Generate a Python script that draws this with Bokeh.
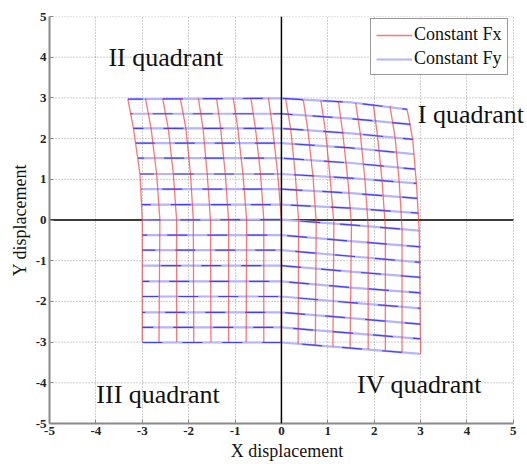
from bokeh.plotting import figure
from bokeh.models import Span, Label, Legend, LegendItem, FixedTicker
from bokeh.embed import file_html
from bokeh.resources import INLINE

# nominal levels of the two families of curves
fx_levels = [-3.0, -2.625, -2.25, -1.875, -1.5, -1.125, -0.75, -0.375, 0.0,
             0.375, 0.75, 1.125, 1.5, 1.875, 2.25, 2.625, 3.0]
fy_levels = [-3.0, -2.625, -2.25, -1.875, -1.5, -1.125, -0.75, -0.375, 0.0,
             0.375, 0.75, 1.125, 1.5, 1.875, 2.25, 2.625, 3.0]

# constant Fx curves (red), read at five rows: bottom, Fy=0, Fy=1.125, Fy=2.25, top
red_x_bottom = [-3.00, -2.64, -2.26, -1.89, -1.52, -1.14, -0.76, -0.38, 0.00,
                0.36, 0.73, 1.11, 1.48, 1.87, 2.24, 2.60, 3.00]
red_y_bottom = [-3.00, -3.00, -3.00, -3.00, -3.00, -3.00, -3.00, -3.00, -3.01,
                -3.04, -3.08, -3.11, -3.15, -3.18, -3.22, -3.25, -3.29]
red_x_row0 = [-3.00, -2.62, -2.26, -1.90, -1.53, -1.14, -0.75, -0.38, 0.00,
              0.37, 0.75, 1.13, 1.51, 1.87, 2.24, 2.60, 2.97]
red_y_row0 = [0.00, 0.00, 0.00, 0.00, 0.00, 0.00, 0.00, 0.00, 0.01,
              -0.02, -0.05, -0.08, -0.12, -0.15, -0.18, -0.22, -0.26]
red_x_row1 = [-3.05, -2.69, -2.33, -1.96, -1.60, -1.21, -0.83, -0.45, -0.08,
              0.30, 0.68, 1.05, 1.43, 1.80, 2.17, 2.54, 2.91]
red_y_row1 = [1.13, 1.13, 1.13, 1.13, 1.13, 1.13, 1.13, 1.13, 1.13,
              1.10, 1.07, 1.04, 1.01, 0.99, 0.96, 0.93, 0.90]
red_x_row2 = [-3.19, -2.81, -2.44, -2.06, -1.69, -1.31, -0.94, -0.56, -0.19,
              0.20, 0.57, 0.95, 1.32, 1.70, 2.07, 2.45, 2.83]
red_y_row2 = [2.25, 2.25, 2.25, 2.25, 2.25, 2.25, 2.25, 2.25, 2.25,
              2.23, 2.21, 2.18, 2.15, 2.12, 2.08, 2.03, 1.98]
red_x_top = [-3.31, -2.93, -2.56, -2.18, -1.79, -1.40, -1.04, -0.66, -0.28,
             0.09, 0.47, 0.85, 1.23, 1.60, 1.98, 2.34, 2.71]
red_y_top = [2.97, 2.98, 2.98, 2.99, 2.99, 3.00, 3.00, 3.00, 3.00,
             2.98, 2.96, 2.94, 2.91, 2.88, 2.85, 2.80, 2.72]

# constant Fy curves (blue): left end, at X=0, at X=1.5, right end
blue_cols = [0.0, 1.5]
blue_x_left = [-3.00, -3.00, -3.00, -3.00, -3.00, -3.00, -3.00, -3.00, -3.00,
               -3.01, -3.02, -3.05, -3.09, -3.14, -3.19, -3.25, -3.31]
blue_y_left = [-3.01, -2.64, -2.27, -1.88, -1.51, -1.12, -0.74, -0.37, 0.00,
               0.38, 0.76, 1.13, 1.52, 1.89, 2.25, 2.61, 2.97]
blue_y_at0 = [-3.01, -2.64, -2.27, -1.88, -1.51, -1.12, -0.74, -0.37, 0.01,
              0.38, 0.76, 1.13, 1.52, 1.89, 2.25, 2.61, 2.99]
blue_y_at15 = [-3.15, -2.78, -2.41, -2.03, -1.66, -1.27, -0.89, -0.52, -0.12,
               0.29, 0.66, 1.03, 1.40, 1.77, 2.13, 2.49, 2.89]
blue_x_right = [3.00, 3.00, 3.00, 3.00, 3.00, 3.00, 3.00, 3.00, 2.97,
                2.95, 2.93, 2.91, 2.88, 2.86, 2.83, 2.78, 2.71]
blue_y_right = [-3.29, -2.92, -2.56, -2.17, -1.79, -1.41, -1.04, -0.66, -0.26,
                0.17, 0.53, 0.90, 1.25, 1.62, 1.98, 2.35, 2.72]

axis_ticks = [-5, -4, -3, -2, -1, 0, 1, 2, 3, 4, 5]
tick_labels = ["-5", "-4", "-3", "-2", "-1", "0", "1", "2", "3", "4", "5"]

SERIF = "Liberation Serif"

red_xs = [[red_x_bottom[k], red_x_row0[k], red_x_row1[k], red_x_row2[k], red_x_top[k]]
          for k in range(len(fx_levels))]
red_ys = [[red_y_bottom[k], red_y_row0[k], red_y_row1[k], red_y_row2[k], red_y_top[k]]
          for k in range(len(fx_levels))]
blue_xs = [[blue_x_left[j], blue_cols[0], blue_cols[1], blue_x_right[j]]
           for j in range(len(fy_levels))]
blue_ys = [[blue_y_left[j], blue_y_at0[j], blue_y_at15[j], blue_y_right[j]]
           for j in range(len(fy_levels))]

x_lo, x_hi = axis_ticks[0], axis_ticks[-1]

# the x range is a little wider than the axis so that the "I quadrant" text fits
p = figure(width=524, height=464, x_range=(x_lo, x_hi + 0.24), y_range=(-5, 5),
           output_backend="svg", toolbar_location=None,
           min_border_left=49, min_border_right=0, min_border_top=16,
           min_border_bottom=41)
p.outline_line_color = None
p.background_fill_color = "white"

# grid: vertical lines via the grid, horizontal lines limited to the axis extent
p.xgrid.ticker = FixedTicker(ticks=axis_ticks)
p.xgrid.grid_line_color = "#9a9a9a"
p.xgrid.grid_line_dash = "1 2"
p.xgrid.grid_line_width = 1
p.ygrid.visible = False
p.segment(x0=[x_lo] * len(axis_ticks), y0=axis_ticks,
          x1=[x_hi] * len(axis_ticks), y1=axis_ticks,
          line_color="#9a9a9a", line_dash="1 2", line_width=1)

# axes through origin
p.segment(x0=[x_lo], y0=[0], x1=[x_hi], y1=[0], line_color="black", line_width=1.5)
p.add_layout(Span(location=0, dimension="height", line_color="black", line_width=1.5))

# blue curves: light base with darker broken overlay
blue_base = p.multi_line(blue_xs, blue_ys, line_color="#b4b4ff", line_width=2.2)
dash_offsets = [0, 9, 17, 4, 13, 21, 7, 15, 2, 11, 19, 6, 14, 1, 10, 18, 5]
for j in range(len(fy_levels)):
    p.line(blue_xs[j], blue_ys[j], line_color="#2a2aff", line_width=1.2,
           line_alpha=0.85, line_dash="20 20", line_dash_offset=dash_offsets[j])

red_r = p.multi_line(red_xs, red_ys, line_color="#ff2a2a", line_alpha=0.65,
                     line_width=1.3)

# axes styling
for ax in (p.xaxis, p.yaxis):
    ax.ticker = FixedTicker(ticks=axis_ticks)
    ax.major_label_overrides = {t: s for t, s in zip(axis_ticks, tick_labels)}
    ax.axis_line_color = "#8a8a8a"
    ax.axis_line_width = 2
    ax.major_tick_line_color = "#8a8a8a"
    ax.major_tick_in = 4
    ax.major_tick_out = 0
    ax.minor_tick_line_color = None
    ax.major_label_text_font = SERIF
    ax.major_label_text_font_style = "bold"
    ax.major_label_text_font_size = "13px"
    ax.major_label_text_color = "#222222"
    ax.axis_label_text_font = SERIF
    ax.axis_label_text_font_style = "normal"
    ax.axis_label_text_font_size = "18px"
    ax.axis_label_text_color = "#111111"
    ax.major_label_standoff = 3
    ax.axis_label_standoff = 3
p.xaxis.bounds = (x_lo, x_hi)

p.xaxis.axis_label = "X displacement"
p.yaxis.axis_label = "Y displacement"

# quadrant annotations
for x, y, t in [(-3.73, 4.0, "II quadrant"), (2.94, 2.6, "I quadrant"),
                (-3.99, -4.28, "III quadrant"), (1.63, -4.05, "IV quadrant")]:
    p.add_layout(Label(x=x, y=y, text=t, text_font=SERIF, text_font_size="26px",
                       text_baseline="middle", text_color="#111111"))

legend = Legend(items=[LegendItem(label="Constant Fx", renderers=[red_r]),
                       LegendItem(label="Constant Fy", renderers=[blue_base])],
                location=(321, 348))
legend.label_text_font = SERIF
legend.label_text_font_size = "18px"
legend.label_text_color = "#111111"
legend.border_line_color = "#333333"
legend.border_line_width = 1.5
legend.glyph_width = 36
legend.glyph_height = 20
legend.label_height = 20
legend.label_standoff = 2
legend.spacing = 3
legend.padding = 5
legend.margin = 0
legend.background_fill_alpha = 1.0
p.add_layout(legend)

open("out.html", "w").write(file_html(p, INLINE))
